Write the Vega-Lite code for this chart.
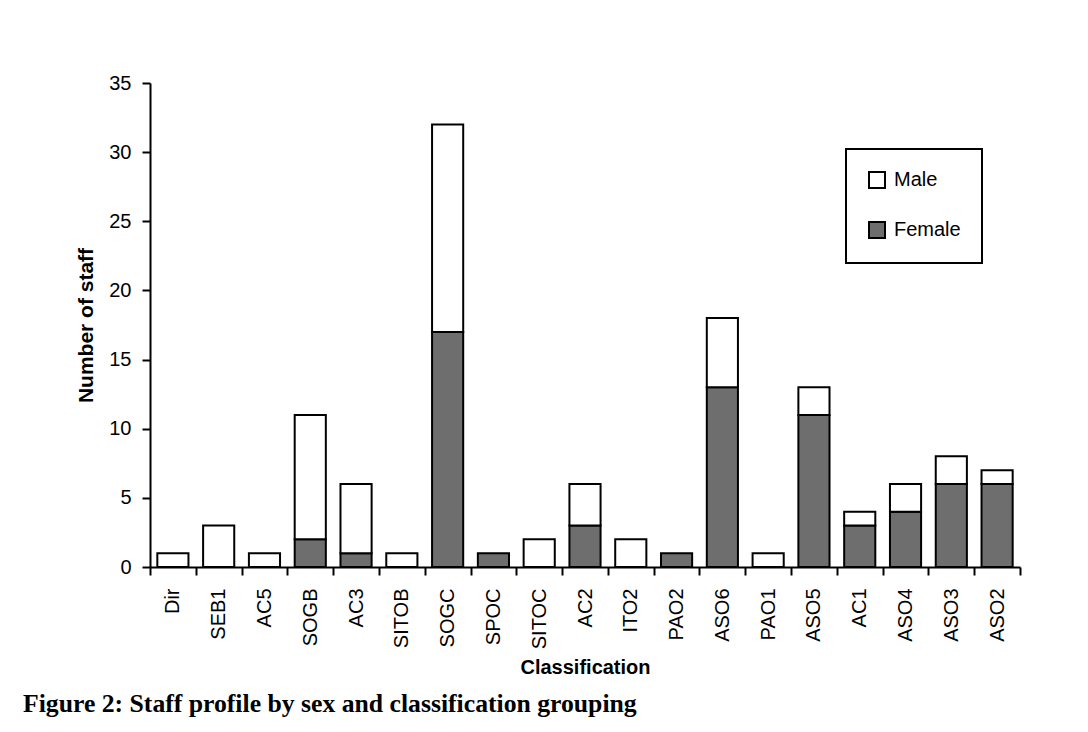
{
  "$schema": "https://vega.github.io/schema/vega-lite/v6.json",
  "width": 870,
  "height": 484,
  "autosize": "none",
  "padding": {"left": 150, "top": 83, "right": 68, "bottom": 165},
  "background": "white",
  "title": {
    "text": "Figure 2: Staff profile by sex and classification grouping",
    "orient": "bottom",
    "anchor": "start",
    "frame": "group",
    "dx": -127,
    "offset": 14,
    "baseline": "top",
    "font": "Liberation Serif",
    "fontSize": 25.7,
    "fontWeight": "bold",
    "color": "black"
  },
  "data": {
    "values": [
      {"cls": "Dir", "sex": "Male", "n": 1},
      {"cls": "SEB1", "sex": "Male", "n": 3},
      {"cls": "AC5", "sex": "Male", "n": 1},
      {"cls": "SOGB", "sex": "Female", "n": 2},
      {"cls": "SOGB", "sex": "Male", "n": 9},
      {"cls": "AC3", "sex": "Female", "n": 1},
      {"cls": "AC3", "sex": "Male", "n": 5},
      {"cls": "SITOB", "sex": "Male", "n": 1},
      {"cls": "SOGC", "sex": "Female", "n": 17},
      {"cls": "SOGC", "sex": "Male", "n": 15},
      {"cls": "SPOC", "sex": "Female", "n": 1},
      {"cls": "SITOC", "sex": "Male", "n": 2},
      {"cls": "AC2", "sex": "Female", "n": 3},
      {"cls": "AC2", "sex": "Male", "n": 3},
      {"cls": "ITO2", "sex": "Male", "n": 2},
      {"cls": "PAO2", "sex": "Female", "n": 1},
      {"cls": "ASO6", "sex": "Female", "n": 13},
      {"cls": "ASO6", "sex": "Male", "n": 5},
      {"cls": "PAO1", "sex": "Male", "n": 1},
      {"cls": "ASO5", "sex": "Female", "n": 11},
      {"cls": "ASO5", "sex": "Male", "n": 2},
      {"cls": "AC1", "sex": "Female", "n": 3},
      {"cls": "AC1", "sex": "Male", "n": 1},
      {"cls": "ASO4", "sex": "Female", "n": 4},
      {"cls": "ASO4", "sex": "Male", "n": 2},
      {"cls": "ASO3", "sex": "Female", "n": 6},
      {"cls": "ASO3", "sex": "Male", "n": 2},
      {"cls": "ASO2", "sex": "Female", "n": 6},
      {"cls": "ASO2", "sex": "Male", "n": 1}
    ]
  },
  "mark": {"type": "bar", "stroke": "black", "strokeWidth": 2, "width": {"band": 0.68}},
  "encoding": {
    "x": {
      "field": "cls",
      "type": "nominal",
      "sort": ["Dir","SEB1","AC5","SOGB","AC3","SITOB","SOGC","SPOC","SITOC","AC2","ITO2","PAO2","ASO6","PAO1","ASO5","AC1","ASO4","ASO3","ASO2"],
      "scale": {"paddingInner": 0, "paddingOuter": 0},
      "axis": {
        "title": "Classification",
        "titleFont": "Liberation Sans",
        "titleFontSize": 20,
        "titleFontWeight": "bold",
        "titleColor": "black",
        "titlePadding": 9,
        "labelAngle": -90,
        "labelFont": "Liberation Sans",
        "labelFontSize": 20,
        "labelColor": "black",
        "labelPadding": 13,
        "tickBand": "extent",
        "tickSize": 8,
        "tickWidth": 2,
        "tickColor": "black",
        "domainWidth": 2,
        "domainColor": "black",
        "grid": false
      }
    },
    "y": {
      "field": "n",
      "type": "quantitative",
      "stack": "zero",
      "scale": {"domain": [0, 35], "nice": false},
      "axis": {
        "title": "Number of staff",
        "titleFont": "Liberation Sans",
        "titleFontSize": 21,
        "titleFontWeight": "bold",
        "titleColor": "black",
        "titlePadding": 12,
        "values": [0,5,10,15,20,25,30,35],
        "labelFont": "Liberation Sans",
        "labelFontSize": 20,
        "labelColor": "black",
        "labelPadding": 11,
        "tickSize": 8,
        "tickWidth": 2,
        "tickColor": "black",
        "domainWidth": 2,
        "domainColor": "black",
        "grid": false
      }
    },
    "color": {
      "field": "sex",
      "type": "nominal",
      "scale": {"domain": ["Male", "Female"], "range": ["white", "#6e6e6e"]},
      "legend": {
        "title": null,
        "orient": "none",
        "legendX": 696,
        "legendY": 66,
        "padding": 21,
        "strokeColor": "black",
        "fillColor": "white",
        "symbolType": "square",
        "symbolSize": 256,
        "symbolStrokeColor": "black",
        "symbolStrokeWidth": 2,
        "labelFont": "Liberation Sans",
        "labelFontSize": 20,
        "labelColor": "black",
        "labelOffset": 7,
        "rowPadding": 26
      }
    },
    "order": {"field": "sex", "sort": "ascending"}
  },
  "config": {"view": {"stroke": null}, "legend": {"strokeWidth": 2}}
}
